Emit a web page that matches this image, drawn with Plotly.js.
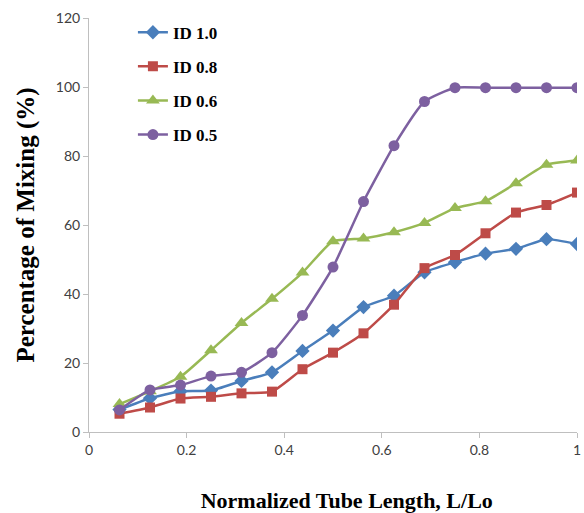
<!DOCTYPE html>
<html>
<head>
<meta charset="utf-8">
<script src="https://cdn.plot.ly/plotly-3.0.1.min.js"></script>
<style>
  html, body { margin: 0; padding: 0; background: #fff; }
  #chart { width: 584px; height: 513px; }
</style>
</head>
<body>
<div id="chart"></div>
<script>
// Normalized tube length positions (L/Lo)
const tubeLength = [0.0625, 0.125, 0.1875, 0.25, 0.3125, 0.375, 0.4375, 0.5,
                    0.5625, 0.625, 0.6875, 0.75, 0.8125, 0.875, 0.9375, 1.0];

// Percentage of mixing for each inner diameter
const id10 = [6.5, 9.8, 11.8, 12.0, 14.8, 17.3, 23.5, 29.4, 36.2, 39.5, 46.3, 49.2, 51.7, 53.1, 55.9, 54.5];
const id08 = [5.3, 7.1, 9.7, 10.2, 11.2, 11.7, 18.2, 23.0, 28.6, 36.9, 47.5, 51.3, 57.6, 63.6, 65.8, 69.4];
const id06 = [8.1, 11.8, 16.0, 23.7, 31.6, 38.6, 46.2, 55.3, 56.1, 57.9, 60.6, 64.9, 66.9, 72.1, 77.5, 78.7];
const id05 = [6.4, 12.2, 13.6, 16.2, 17.3, 23.0, 33.8, 47.8, 66.8, 83.0, 95.8, 99.8, 99.8, 99.8, 99.8, 99.8];

const seriesNames = ['ID 1.0', 'ID 0.8', 'ID 0.6', 'ID 0.5'];
const xTickVals = [0, 0.2, 0.4, 0.6, 0.8, 1];
const xTickText = ['0', '0.2', '0.4', '0.6', '0.8', '1'];
const yTickVals = [0, 20, 40, 60, 80, 100, 120];

const styles = [
  { color: '#4A7EBB', symbol: 'diamond', size: 11 },
  { color: '#BE4B48', symbol: 'square', size: 10 },
  { color: '#98B954', symbol: 'triangle-up', size: 12 },
  { color: '#7D60A0', symbol: 'circle', size: 11 }
];

const data = [id10, id08, id06, id05].map((vals, i) => ({
  x: tubeLength,
  y: vals,
  name: seriesNames[i],
  legendgroup: 'g' + i,
  type: 'scatter',
  mode: 'lines+markers',
  line: { color: styles[i].color, width: 2.5, shape: 'spline', smoothing: 0.5 },
  marker: { color: styles[i].color, symbol: styles[i].symbol, size: styles[i].size,
            line: { width: 0 } }
}));

const tickFont = { family: 'Lato, "Open Sans", sans-serif', size: 14, color: '#404040' };
const serif = '"Liberation Serif", "Times New Roman", serif';

const layout = {
  width: 584,
  height: 513,
  margin: { l: 89, r: 7, t: 18, b: 81 },
  paper_bgcolor: '#fff',
  plot_bgcolor: '#fff',
  showlegend: true,
  legend: {
    x: 0.09, y: 1.008, xanchor: 'left', yanchor: 'top',
    traceorder: 'grouped', tracegroupgap: 9,
    font: { family: serif, size: 17, color: '#000', weight: 'bold' },
    bgcolor: 'rgba(0,0,0,0)', itemwidth: 30
  },
  xaxis: {
    range: [0, 1], tickvals: xTickVals, ticktext: xTickText,
    showgrid: false, zeroline: false, showline: true, linecolor: '#BFBFBF', linewidth: 1,
    ticks: 'outside', ticklen: 5, tickcolor: '#BFBFBF', tickfont: tickFont,
    title: { text: '&nbsp;&nbsp;&nbsp;&nbsp;&nbsp;<b>Normalized Tube Length, L/Lo</b>',
             font: { family: serif, size: 22, color: '#000' }, standoff: 35 }
  },
  yaxis: {
    range: [0, 120], tickvals: yTickVals,
    showgrid: false, zeroline: false, showline: true, linecolor: '#BFBFBF', linewidth: 1,
    ticks: 'outside', ticklen: 5, tickcolor: '#BFBFBF', tickfont: tickFont,
    title: { text: '<b>Percentage of Mixing (%)</b>',
             font: { family: serif, size: 25, color: '#000' }, standoff: 14 }
  }
};

Plotly.newPlot('chart', data, layout, { displayModeBar: false, staticPlot: true });
</script>
</body>
</html>
